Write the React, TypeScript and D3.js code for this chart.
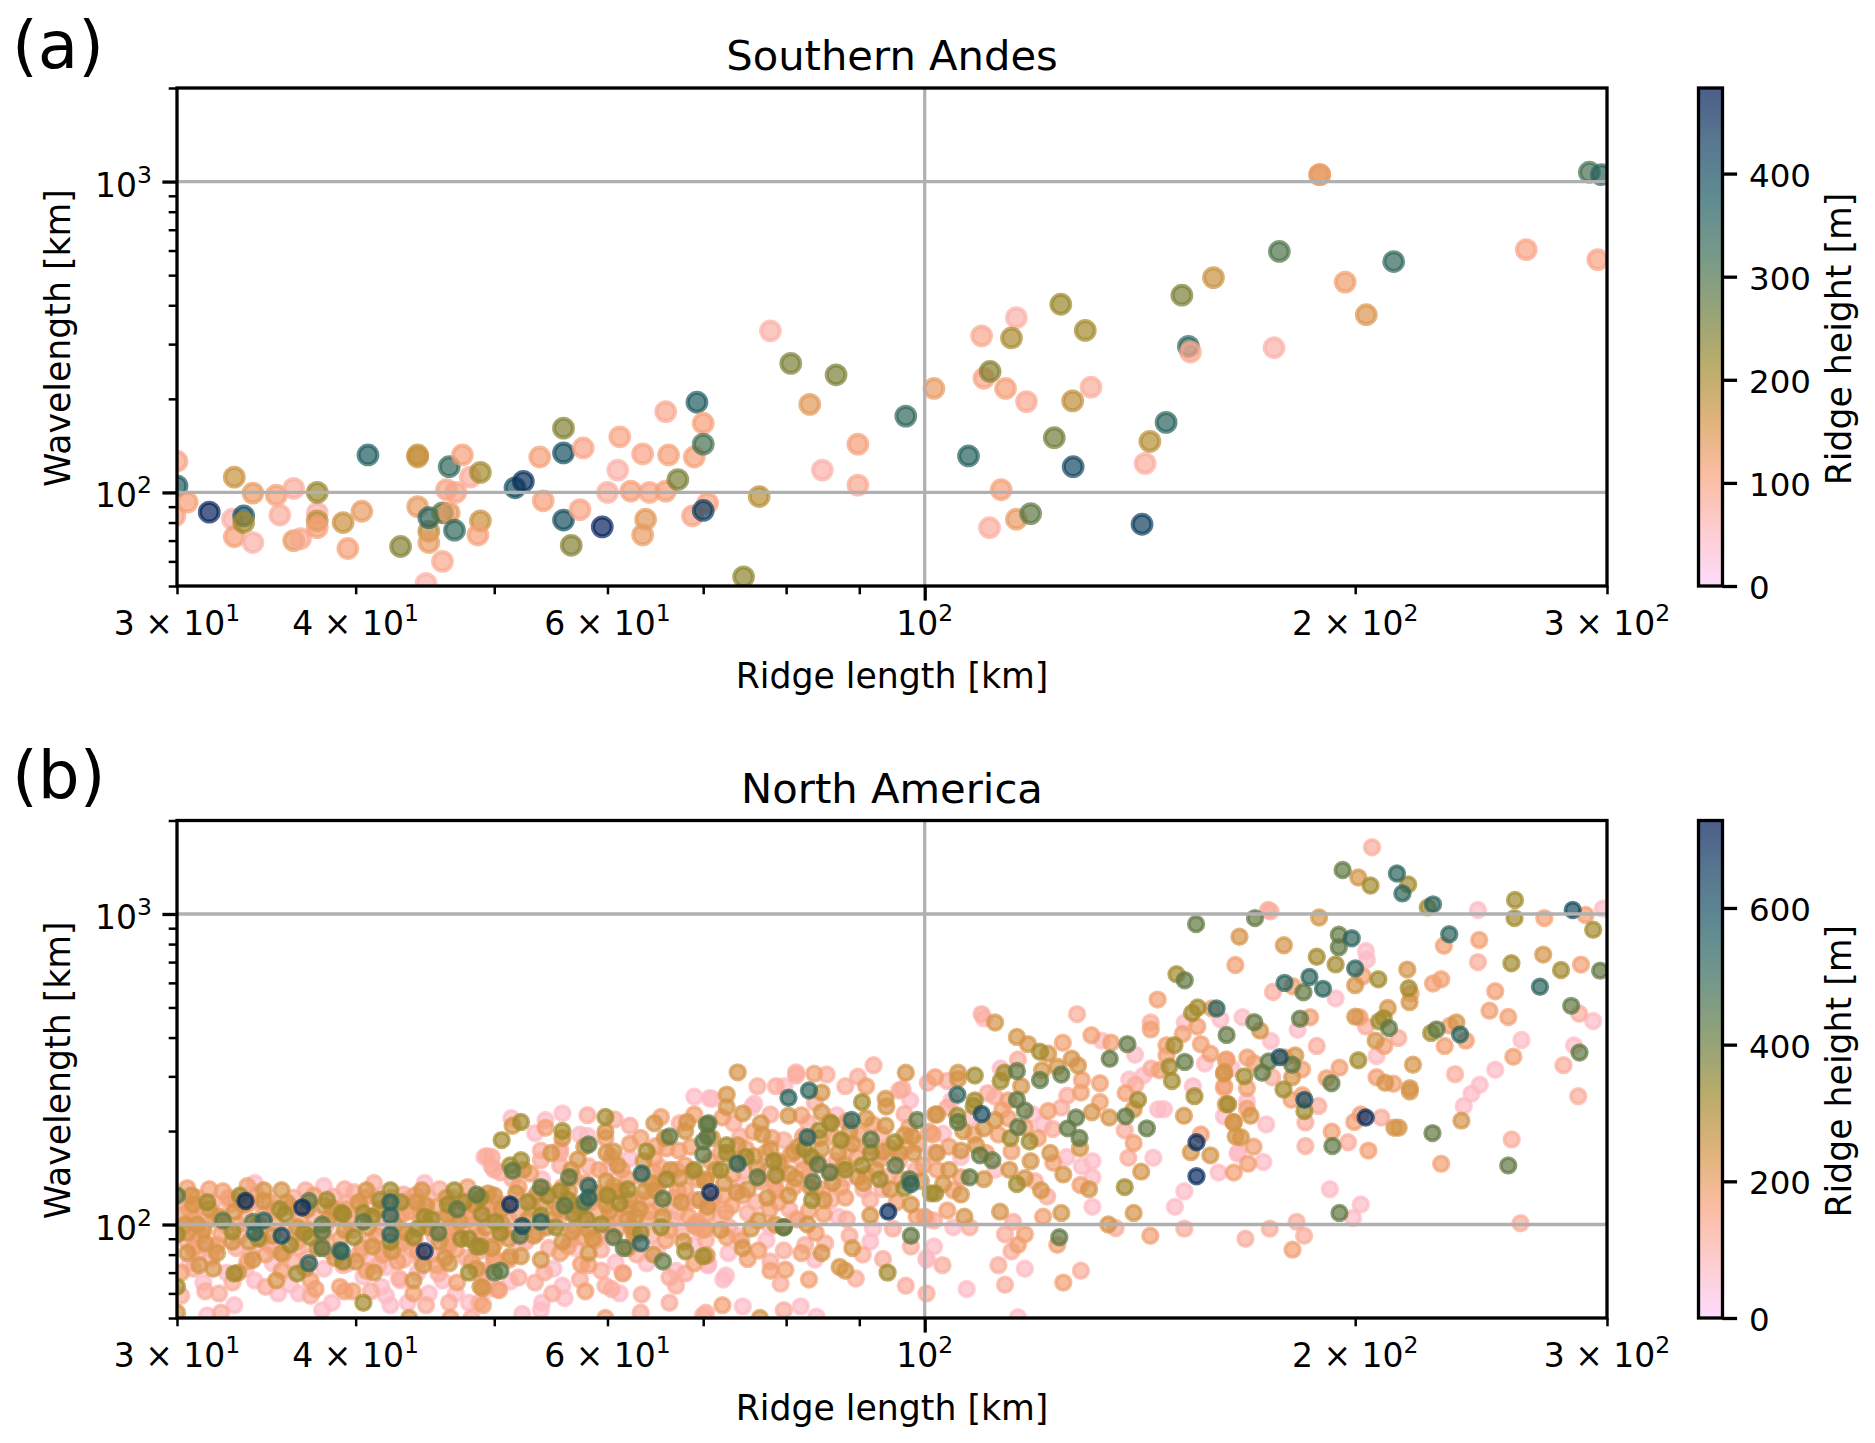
import * as d3 from "d3";
import { useEffect, useRef } from "react";

// Panel (a): Southern Andes, one entry per ridge
const andesLengths = [
  30, 30, 29.9, 30.5, 31.6, 32.8, 32.9, 32.9, 33.4, 33.4,
  33.9, 33.9, 35.2, 36.2, 35.4, 36.2, 36.6, 37.6, 37.6, 37.6,
  37.6, 39.2, 39.5, 40.4, 40.8, 43, 44.2, 44.2, 44.2, 44.8,
  45, 45, 45, 46, 46.5, 46, 46.9, 46.5, 47.5, 46.3,
  47, 48.1, 48.9, 48.9, 48.7, 51.7, 52.4, 53.8, 54.1, 55.9,
  55.9, 55.9, 56.6, 57.7, 57.4, 59.5, 60, 61, 61.2, 62.3,
  64.2, 63.5, 63.8, 63.5, 65.9, 66.2, 65.9, 67.2, 69, 69.3,
  70, 70, 68.8, 70.5, 70, 74.7, 76.6, 78, 80.6, 86.7,
  83.1, 89.8, 84.8, 89.8, 97, 101.5, 107.3, 109.6, 115.9, 115,
  110, 111.1, 113.9, 117.8, 113.1, 111, 115.9, 118.6, 123.2, 124.5,
  129.5, 126.9, 130.7, 127, 141.9, 142.6, 143.7, 147.5, 151.3, 152.9,
  153.4, 159.2, 177, 175.5, 188.9, 196.8, 203.6, 212.8, 263.4, 291.6,
  297.3, 295.6, 188.9,
];
const andesWavelengths = [
  126, 105, 84, 93, 86.4, 82, 112, 72, 84, 80,
  69, 99.5, 98, 103, 84.6, 70, 71, 86, 100, 81,
  77, 80, 66, 87, 132, 67, 132, 130, 90, 51,
  75, 69, 83, 86, 86, 60, 75.6, 121, 132, 102,
  100, 112, 116, 81, 73, 103.5, 108.5, 130, 94, 161,
  134, 81.5, 67.6, 139, 88, 77.5, 100, 118, 151, 101,
  100, 133, 82, 73, 101, 132, 182, 110, 130, 195,
  167, 143, 84, 92.5, 87.5, 53.5, 97, 331, 260, 239,
  192, 143, 118, 105.6, 176, 216, 131, 319, 365, 314,
  233, 245, 216, 196, 102, 77, 82, 85.5, 150, 403,
  332, 197, 218, 121, 79, 124, 146, 168, 431, 295,
  283, 491, 596, 292, 1053, 475, 373, 553, 604, 1072,
  1053, 561, 1053,
];
const andesHeights = [
  100, 370, 100, 110, 470, 70, 170, 110, 400, 210,
  70, 130, 110, 80, 80, 130, 90, 70, 220, 180,
  110, 170, 110, 130, 370, 240, 180, 170, 130, 70,
  180, 130, 350, 290, 130, 90, 340, 340, 110, 100,
  100, 80, 210, 170, 110, 400, 450, 110, 110, 240,
  400, 400, 240, 100, 100, 470, 80, 70, 100, 110,
  100, 100, 140, 130, 110, 110, 90, 250, 110, 370,
  110, 310, 100, 100, 430, 230, 190, 70, 250, 250,
  140, 110, 70, 90, 340, 130, 360, 90, 70, 200,
  100, 240, 110, 90, 110, 80, 130, 280, 260, 220,
  210, 180, 80, 410, 430, 80, 190, 350, 250, 340,
  90, 170, 300, 70, 130, 120, 150, 340, 100, 310,
  350, 100, 130,
];

// Panel (b): North America, ridges grouped by the height read from their colour
// every list is [length km, wavelength km]
const naBandHeights = [70, 120, 175, 235, 315, 420, 525, 610, 690];
const naPink = [
  [31.3, 65], [32.9, 55], [31.5, 51], [35.3, 60], [37.9, 53], [38, 133], [34, 136], [34.7, 87],
  [42, 59], [42.3, 55], [41.7, 63], [42, 73], [45, 60], [44.7, 136],
  [51.4, 220], [49.2, 165], [54.3, 217], [53.4, 197], [55.8, 228], [57.4, 195], [58.1, 193], [62.2, 163],
  [69, 258], [70.7, 255], [61.2, 60], [52.3, 51.5], [53.9, 53], [54, 56], [56, 58], [55.8, 63.5],
  [51.3, 65.5], [70.5, 74], [63.9, 75], [60.8, 75.5], [66.3, 141],
  [71, 254], [76, 245], [75.7, 239], [97.7, 251], [70.6, 74.5], [72.9, 81], [77.5, 89], [83.8, 77],
  [92, 97], [91.6, 88], [100.3, 78], [72.6, 68.5], [72.3, 66.5], [74.6, 54.5], [81.9, 54.5], [84, 50.5],
  [86.8, 225], [100.5, 104], [79.8, 279], [113, 318], [110, 461], [133, 391], [140.3, 352], [152, 447],
  [161, 457], [142.2, 302], [139, 293], [117.5, 72], [107, 62], [101.5, 85], [100.3, 77], [104.7, 98],
  [116.2, 50.3], [131, 114], [131, 142], [144.5, 164], [128.8, 154], [131, 160], [125.7, 165], [145.6, 235],
  [147, 235], [154, 279], [160.5, 147], [165.7, 171], [149.6, 114], [151.9, 128], [119, 226], [121, 210],
  [104.4, 251], [107.5, 220], [298, 1040], [243.7, 1030], [203.5, 760], [203.8, 712], [193.8, 535], [166.8, 465],
  [174.6, 390], [182.3, 424], [207, 349], [284.5, 377], [261.4, 393], [250.6, 315], [244.4, 282], [241.2, 264],
  [238.2, 241], [293.4, 452], [164, 318], [157, 330], [168, 250], [173.3, 210], [165.5, 169], [172.5, 159],
  [192, 130], [201.8, 116], [199.3, 105], [161.9, 223],
  [30.6, 75], [31, 85], [32.5, 70], [33.5, 72], [34, 66], [35, 75], [36, 64], [36.5, 60], [38, 72],
  [38.5, 56], [39.5, 75], [40.5, 68], [41, 76], [43, 66], [43.5, 56], [44.2, 70], [46, 66], [47, 60],
  [48, 56], [49, 68], [49.5, 62], [52, 88], [55, 72], [57, 84], [59, 92], [61.5, 70], [65, 82], [67, 71],
  [69, 86], [74, 92], [78, 98], [81, 104], [87, 106], [74, 132], [79, 143], [88, 141], [93, 168],
  [103, 196], [106, 165], [112, 150], [60, 150], [54, 140],
];
const naSalmon = [
  [34.6, 63], [31.4, 61], [32.1, 60], [32.2, 52], [37.2, 59], [36.9, 129], [31.3, 99], [31.8, 83], [31, 81],
  [30.8, 72], [32.8, 65], [30.2, 59], [50.2, 62], [48.8, 56], [46.5, 56], [44.8, 55], [42.9, 67], [41, 61],
  [43.2, 77], [41.7, 82], [44.4, 77], [45.7, 69.5], [48.2, 50], [39.3, 130], [39.9, 127], [41.2, 136], [43.2, 125],
  [45.8, 130], [49.2, 70], [49.8, 154], [49.4, 166],
  [49.8, 165], [51.5, 140], [50, 150], [50.5, 147], [55.6, 175], [55.6, 170], [55.6, 155], [53.9, 173], [53.9, 161],
  [58.2, 154], [58.1, 225], [60.7, 218], [62.2, 208], [65.4, 152], [67.4, 212], [69, 120], [59.4, 71], [59.8, 63.5],
  [60.4, 62], [63.4, 59.5], [66.3, 56], [63.3, 52], [54.9, 60], [57.4, 66.5], [54.2, 70], [53.4, 65], [52, 67.5],
  [49.1, 71], [66.3, 67.5], [67, 63.5], [68, 69.6], [62.9, 80], [59.4, 83], [67.6, 95], [67.2, 110], [70, 51],
  [78, 226], [96.8, 227], [96, 270], [83.8, 247], [75.2, 109], [72, 105], [88.2, 104], [93.4, 130], [91.6, 120],
  [70.3, 89], [79.7, 82.5], [82.5, 86], [85.2, 87], [88.6, 92], [90.5, 80], [95, 97], [93.5, 77.5], [97.8, 85],
  [89.5, 67], [78, 76], [79.3, 64.5], [97, 63.5], [100.3, 60], [79.7, 53], [70.3, 52],
  [74.3, 192], [73.5, 212], [79.7, 187], [82, 162], [77.5, 148], [87.6, 150], [85, 130], [86.7, 160], [82.9, 212],
  [93.2, 195], [101.5, 170], [76.4, 279], [78.7, 279], [88, 279], [81.3, 309], [81.3, 302], [85.4, 304], [89.8, 299],
  [92.1, 326], [96.5, 273], [100.5, 286], [109.6, 476], [127.8, 476], [116.2, 340], [143.9, 447], [144, 318],
  [125.8, 260], [113.8, 93], [115.3, 102], [112.6, 74], [115, 82], [113.8, 64], [128.6, 71], [102.9, 74],
  [107.5, 98], [101.5, 103], [119.4, 138], [121.8, 123], [136, 97.5], [151.9, 97], [138.8, 164], [138, 201],
  [140.4, 282], [103.7, 290], [112, 258], [110.7, 265], [103.7, 238], [124.6, 238], [122.9, 203],
  [173.8, 1030], [174.5, 1020], [205.5, 1640], [243.7, 700], [175.2, 561], [286.9, 477], [279.7, 326], [234.9, 305],
  [286.4, 259], [257.3, 188], [261, 101], [203.5, 434], [214.4, 399], [188, 376], [175, 298], [161.9, 275],
  [188.5, 241], [184.6, 213], [184.6, 179], [197.7, 184], [208.6, 221], [182, 102], [174.3, 97], [167.6, 90], [184.2, 92],
  [30.4, 118], [30.9, 96], [31.2, 108], [31.8, 118], [32.4, 100], [32.7, 116], [33.2, 92], [33.5, 106], [34.1, 124],
  [34.3, 96], [35.1, 113], [35.8, 96], [36.2, 122], [36.5, 84], [37.4, 106], [38.2, 100], [38.6, 123], [39.5, 118],
  [39.8, 96], [40.3, 115], [40.9, 88], [41.4, 122], [41.8, 97], [42.8, 104], [43.4, 120], [43.8, 84], [44.3, 112],
  [45, 122], [45.4, 92], [46, 105], [46.8, 122], [47.5, 97], [48.3, 110], [49, 90], [49.4, 104], [49.8, 120],
  [30.5, 88], [31.7, 78], [33, 84], [33.8, 80], [35, 84], [36.2, 76], [37, 78], [38.4, 82], [39.2, 74], [40.2, 80],
  [41.5, 74], [42.7, 86], [44, 90], [45.2, 80], [46.4, 84], [47.8, 78], [48.8, 82], [50.4, 92], [51.2, 104], [52.6, 88],
  [53.2, 112], [54.6, 84], [55.4, 102], [56.6, 90], [57.2, 116], [58.6, 100], [59.6, 124], [60.4, 92], [61.8, 104],
  [63, 120], [64.4, 92], [65.2, 136], [66.6, 104], [68.2, 118], [69.4, 102], [71.2, 122], [73, 98], [74.8, 148],
  [76.2, 118], [78.6, 134], [80.4, 112], [83, 145], [86, 120], [88.4, 176], [90.6, 130], [94, 142], [96, 160], [98.6, 150],
];
const naOrange = [
  [37.5, 62], [37.2, 66], [35.5, 71], [34.6, 80], [39, 63], [30.8, 105], [30.3, 107], [32.2, 93], [30.2, 70],
  [30.5, 131], [31.6, 130], [32.3, 128], [33.6, 133], [47.1, 65], [48.6, 118], [48.5, 100], [51.2, 77], [50, 77],
  [43.9, 60], [40.7, 71], [39.3, 61], [39.8, 61], [46.6, 50], [47.9, 132], [43.1, 108], [43.7, 110], [46.6, 98],
  [43.1, 87], [46.5, 87], [47, 83], [50, 109], [54.3, 205], [59.8, 190], [61.4, 150], [62.2, 182], [63.3, 190],
  [65.4, 222], [69, 226], [67.3, 173], [64.9, 179], [64.7, 163], [68, 155], [68, 130], [67.2, 128], [62.2, 113],
  [53.1, 120], [69.2, 98], [70, 96], [66.3, 96], [69, 75], [57.5, 74.5], [58.2, 74], [61.5, 69.6], [57.9, 61],
  [59.8, 50], [50.4, 61.5], [49.1, 55], [50, 78], [50, 86], [55.6, 81], [56.3, 85], [65.9, 89], [69, 100],
  [64, 120], [60.6, 108], [57.5, 104], [59, 110], [64.2, 110], [61, 97], [58.8, 89], [57.6, 91], [52, 108], [55, 104],
  [72.2, 221], [82, 225], [75.9, 199], [92, 210], [71, 117], [73.3, 115], [72.3, 124], [77.9, 112], [78.7, 129],
  [87.4, 132], [85, 108], [83, 111], [82.3, 150], [95.6, 118], [98.7, 106], [81.5, 104], [70.3, 97], [72.7, 91],
  [74.4, 89], [76.5, 82.5], [75.2, 77.5], [82, 81], [83.9, 94], [83, 66.5], [79.9, 71.5], [78, 71], [72.2, 55],
  [79.3, 155], [89.7, 165], [97.5, 205], [100.7, 199], [99.8, 155], [91, 279], [83.7, 306], [101.7, 298],
  [101.3, 195], [104.7, 129], [103.7, 111], [123.8, 86], [117.5, 93], [116.2, 86], [125, 65], [100, 106], [121, 106],
  [124.9, 385], [128.8, 292], [130.8, 407], [135, 385], [143.9, 425], [145.5, 530], [158.8, 496], [155.1, 434],
  [151.5, 411], [147.6, 378], [156, 381], [158.4, 355], [147.6, 350], [146, 314], [138.2, 265], [132.6, 285],
  [132.6, 248], [128.6, 266], [128.5, 134], [143.8, 92], [140, 183], [156, 195], [164.5, 147], [162, 279], [162.6, 340],
  [114.4, 251], [122, 232], [114.4, 220], [113.3, 234],
  [271.2, 970], [289.8, 993], [164.9, 685], [202.5, 630], [244.2, 825], [230.7, 790], [287.7, 687], [180.9, 585],
  [218.7, 555], [226.7, 597], [229.7, 616], [250.6, 564], [248.3, 488], [255.9, 466], [201.4, 465], [186, 465],
  [233, 437], [239, 391], [231, 376], [209.6, 376], [195, 320], [191, 296], [207, 298], [212.7, 284], [258, 347],
  [178.6, 345], [183.6, 316], [168.1, 345], [170, 331], [162.4, 338], [168, 275], [183.7, 261], [180.5, 252],
  [168, 236], [192.6, 199], [199.7, 214], [201.8, 226], [204.3, 173], [169.8, 178], [168.3, 157], [229.7, 157], [180.8, 83],
  [30.6, 112], [31, 122], [31.9, 104], [32.6, 122], [33.1, 100], [33.8, 118], [34.5, 108], [35.2, 100], [36, 114],
  [36.6, 104], [37.4, 124], [38, 92], [38.8, 108], [39.6, 102], [40.6, 122], [41.4, 92], [42, 112], [43, 96], [44, 124],
  [44.8, 100], [45.6, 114], [46.8, 108], [47.8, 118], [48.8, 92], [49.6, 112], [31.2, 92], [32, 86], [33.6, 76], [34.4, 90],
  [35.6, 80], [36.4, 88], [37.8, 86], [39, 90], [40.4, 84], [41.8, 80], [42.8, 76], [44.2, 82], [45.6, 74], [47.2, 92], [48.2, 76],
  [51, 116], [52.4, 98], [53.6, 94], [55.2, 118], [56.2, 110], [57, 98], [58.4, 118], [60, 100], [61.6, 114], [62.6, 92],
  [64, 104], [65.4, 114], [66.8, 122], [68.4, 106], [70.4, 108], [72.6, 110], [74.6, 124], [76.8, 138], [79, 118], [81, 132],
  [84, 128], [86, 148], [88, 122], [91, 145], [93, 162], [96.4, 140], [60.6, 128], [62, 140], [64.6, 148], [66, 176], [68.6, 178],
  [50.8, 96], [52, 132], [53, 146], [54.2, 130], [55.8, 132], [56.8, 142], [58, 136], [59.2, 150], [60.4, 165], [61.4, 128],
  [63.4, 142], [65, 130], [67, 150], [69.4, 140], [70.8, 160], [72, 170], [73.4, 145], [75, 175], [77.4, 170], [78.2, 190],
  [80.6, 168], [82.2, 192], [84.2, 160], [86.6, 190], [88.2, 215], [90, 196], [91.4, 178], [94.6, 176], [97, 178], [99, 182],
  [30.8, 84], [33, 120], [34.8, 118], [37, 96], [39.4, 112], [41, 106], [42.4, 122], [44.4, 106], [46.2, 94], [48, 104], [49.2, 122],
  [102, 150], [104, 178], [106, 142], [108.2, 195], [110.4, 170], [112.6, 195], [115, 172], [117.6, 205], [120, 190], [123, 158],
];
const naTan = [
  [35.5, 129], [34.5, 119], [34.5, 129], [30.7, 124], [31.6, 112], [31, 100], [30.5, 94], [31.4, 87], [30.5, 81],
  [32, 81], [31.8, 72], [33.9, 77], [35.5, 81], [32.9, 110], [38, 115], [38.5, 113], [33.7, 88], [30, 52],
  [44.8, 115], [44.5, 129], [40.7, 129], [41.1, 85], [43.9, 66], [46.4, 107], [49.5, 126], [46.5, 75], [48.9, 63], [51.2, 90], [43.6, 50],
  [51.5, 208], [55.8, 190], [59.8, 199], [57.2, 162], [59.9, 170], [60.6, 172], [59.9, 138], [60.6, 133], [64.7, 212],
  [68, 200], [67.4, 141], [70.2, 138], [70.5, 114], [64.7, 129], [63.7, 128], [62.2, 120], [59.9, 116], [62.8, 106],
  [53.9, 115], [50, 124], [50.6, 101], [56.7, 95], [62.7, 94], [58.2, 81], [49.1, 62.5], [53.9, 77], [52.2, 79], [51.3, 79],
  [53.3, 92], [62, 104],
  [72.7, 262], [72.7, 239], [84.7, 266], [74.6, 228], [80.3, 224], [84.7, 230], [93.9, 254], [94, 240], [93.9, 208],
  [96.8, 194], [102, 226], [77, 195], [78, 175], [76, 166], [81, 171], [84.7, 175], [87, 170], [70.3, 140], [73.9, 127],
  [81.2, 141], [80.3, 124], [85, 120], [89.8, 142], [93.5, 172], [97.8, 116], [91.6, 107], [76.5, 103], [75.6, 97],
  [70.4, 79.5], [84.7, 81], [89, 84], [87.2, 73], [88, 71], [76.7, 50], [98, 192], [74, 309], [97, 308],
  [105.5, 308], [105.5, 294], [112, 447], [116, 402], [118.1, 381], [122, 355], [120.8, 314], [123.8, 322], [126.7, 342],
  [128, 325], [116.8, 279], [101.7, 226], [110, 204], [112, 217], [106, 173], [106.6, 106], [112.9, 110], [117.5, 141],
  [120.6, 129], [124.6, 109], [134.4, 100], [140, 109], [130.3, 130], [141.7, 148], [128.4, 176], [130.9, 230], [134.6, 221],
  [140, 235], [151.8, 224], [153.5, 171], [158.4, 167], [165, 192], [164.5, 214], [162, 310],
  [201, 1310], [188.7, 974], [166, 845], [178.3, 793], [270.7, 740], [217.5, 662], [200, 590], [210.8, 498], [200, 467],
  [218.3, 520], [235.4, 447], [171.6, 421], [206.7, 391], [219.5, 327], [209.9, 286], [218.4, 275], [218.4, 268],
  [181.6, 350], [161.9, 306], [180.7, 298], [169, 224], [162.4, 244], [164.4, 213], [237.3, 216], [213, 205], [214.5, 205], [166.4, 191],
  [30.8, 116], [31.3, 96], [32.1, 106], [32.8, 88], [33.4, 116], [34.2, 100], [35, 92], [35.8, 118], [36.4, 98], [37, 112],
  [37.6, 84], [38.3, 104], [39.3, 96], [40.2, 118], [40.8, 98], [41.6, 112], [42.6, 100], [43.4, 94], [44.1, 118], [45, 98],
  [45.8, 88], [46.3, 122], [47.3, 102], [48.4, 116], [49.3, 98], [30.4, 100], [31.1, 74], [33.1, 70], [35.2, 66], [36.9, 72],
  [38.7, 78], [40, 76], [41.2, 70], [42.4, 82], [44.6, 74], [46.2, 78], [48.6, 72], [49.8, 84],
  [50.6, 112], [51.8, 126], [52.8, 104], [53.6, 126], [54.4, 98], [55.4, 112], [56.4, 128], [57.4, 112], [58.2, 96], [59, 126],
  [60.2, 110], [61.2, 128], [62.4, 98], [63.2, 112], [64.4, 136], [65.6, 106], [66.4, 150], [67.6, 118], [68.8, 148], [69.6, 120],
  [71.4, 150], [72.4, 136], [73.8, 160], [75.2, 130], [76.4, 152], [77.6, 122], [79, 160], [80.4, 146], [81.6, 178], [83.2, 132],
  [84.4, 190], [86.2, 136], [87.8, 156], [89, 182], [90.6, 136], [92.4, 150], [94.6, 130], [96, 170], [98.2, 170], [99.4, 138],
  [52.4, 150], [54.8, 170], [56.6, 150], [57.8, 178], [61, 155], [63.6, 160], [65.8, 190], [68.2, 214], [71, 190], [74, 180],
  [76.8, 212], [85.8, 214], [88.6, 200], [91, 220], [58.6, 90], [55.8, 88], [62, 84], [64.6, 80], [67.8, 88], [72, 96],
  [74.6, 84], [78.6, 100], [82.8, 100], [102, 170], [104, 150], [106.4, 200], [108.6, 180], [103, 135], [106, 125], [110, 140],
  [114.6, 150], [118.6, 160], [122.4, 170], [125, 145],
];
const naOlive = [
  [30, 93], [30, 63], [32.8, 95], [32.9, 69.5], [36.4, 69.5], [35.7, 108], [36.8, 94], [37.2, 91], [39.1, 109],
  [39.9, 91], [39.2, 108], [41.1, 106], [40.5, 109], [42.3, 129], [42.3, 88], [43.9, 91], [44.7, 106], [39.2, 76],
  [40.5, 56], [46.4, 116], [46.9, 129], [50.1, 102], [47.4, 90], [48, 90], [48.6, 85], [48, 70], [51.3, 155],
  [52.2, 214], [50.6, 187], [52.2, 161], [59.8, 222], [55.8, 200], [63.9, 172], [61.2, 117], [55.6, 128], [56.3, 120],
  [53.9, 107], [48.9, 122], [48.9, 85], [55.2, 98], [58, 104], [59.4, 100], [63.3, 94], [65.4, 98], [68, 82], [70, 79],
  [90.4, 248], [72.7, 180], [72.7, 170], [84.4, 201], [86, 212], [87.4, 187], [95.3, 184], [83.3, 165], [78.7, 144],
  [83.4, 120], [90.4, 155], [91.7, 170], [96.8, 131], [101, 126], [79.7, 98], [94.2, 70],
  [108.4, 302], [120.4, 360], [113.7, 308], [113, 290], [114.8, 190], [118.4, 185], [108.4, 251], [108.2, 241], [105.4, 224],
  [101.7, 126], [116, 135], [138, 132], [141, 252], [149.5, 378], [148.3, 322], [148.9, 290], [150, 640], [155.2, 500],
  [153.8, 480], [154.4, 259], [163, 244],
  [205, 1235], [217.8, 1245], [224.8, 1050], [258.7, 1110], [258.5, 970], [293.4, 890], [188, 728], [193.8, 688], [257.2, 694],
  [278.6, 660], [207.6, 616], [218, 577], [207.9, 451], [209.4, 462], [226, 414], [201, 338], [167.3, 300], [178.2, 272], [184.3, 232],
  [31.5, 118], [33.2, 124], [34.2, 90], [35.4, 112], [36, 86], [38.2, 120], [41.6, 120], [43, 118], [44.2, 97], [45.2, 104],
  [47.6, 118], [49, 108], [50.5, 94], [52.8, 118], [54.5, 124], [56.8, 108], [60, 124], [62, 130], [66, 140], [69, 150],
  [72, 150], [75, 165], [78.4, 160], [82.4, 175], [88, 150], [93, 140],
];
const naGreen = [
  [37.1, 119], [33.9, 102], [32.3, 103], [30, 124], [37.9, 100], [37.9, 95], [37.9, 84], [39, 82.6],
  [40.5, 102], [47.1, 112], [48.6, 125], [45.7, 94], [50, 70],
  [51.5, 149], [58.2, 181], [56.4, 142], [57.8, 118], [66.3, 192], [70.4, 210], [70.5, 192], [70, 185], [70, 168],
  [65.6, 121], [53.9, 132], [56, 115], [52.1, 92], [60.6, 91], [61.6, 84], [65.6, 76], [50.5, 71],
  [98.8, 217], [70.6, 212], [91.7, 188], [84.2, 156], [85.8, 147], [76.4, 142], [83.5, 137], [95.4, 155], [97.6, 140], [79.7, 98], [97.8, 92],
  [116, 312], [120.4, 292], [124.6, 304], [116, 252], [117.5, 233], [116.2, 206], [109.3, 167], [111.5, 161], [105.5, 214],
  [107.5, 142], [124.2, 91], [138.6, 381], [134.7, 342], [152, 612], [154.8, 928], [162.6, 408], [152, 334], [128.3, 190],
  [125.9, 204], [127.6, 221], [138.2, 223], [143, 204],
  [196, 1385], [170.2, 970], [194.8, 857], [194.8, 782], [296.7, 657], [184, 560], [283.2, 506], [287, 358], [226.5, 197],
  [255.9, 155], [183, 460], [170, 448], [211.2, 429], [228, 425], [174, 335], [172.2, 308], [180.7, 327], [192.5, 285], [192.8, 179], [195, 109],
];
const naTeal = [
  [37.1, 75], [34.5, 103], [34, 94], [42.3, 118], [42.3, 107], [42.3, 93], [39.1, 82],
  [58.2, 133], [58.2, 122], [53.9, 102], [63.4, 146], [63.3, 87], [80.3, 256], [83, 270],
  [74, 157], [82.8, 191], [88.9, 217], [97.8, 135], [105.4, 262], [160, 496],
  [213.9, 1350], [215.8, 1165], [226.7, 1074], [198.9, 835], [232.7, 860], [200, 668], [178.5, 600], [185.8, 627], [189.9, 574],
  [269.3, 583], [236.8, 409],
];
const naBlue = [
  [35.5, 92], [52.3, 99], [109.6, 227], [283.9, 1030], [177.1, 346], [184.3, 252],
];
const naNavy = [
  [33.5, 119], [36.7, 113.5], [51.3, 116], [44.7, 82], [70.8, 127], [94.3, 110],
  [154.9, 184], [154.9, 143], [203.4, 221],
];
const naBands = [naPink, naSalmon, naOrange, naTan, naOlive, naGreen, naTeal, naBlue, naNavy];

// Axis limits and ticks, the same for both panels
const lengthDomain = [30, 300];
const wavelengthDomain = [50, 2000];
const lengthMajor = [100];
const lengthMinor = [30, 40, 50, 60, 70, 80, 90, 200, 300];
const lengthLabels = [30, 40, 60, 100, 200, 300];
const wavelengthMajor = [100, 1000];
const wavelengthMinor = [50, 60, 70, 80, 90, 200, 300, 400, 500, 600, 700, 800, 900, 2000];

// batlow, reversed: light pink at zero height to navy at the top
const batlowStops = [
  "#FACCFA", "#FDB7BC", "#F8A17B", "#D29343", "#9D892B",
  "#687B3E", "#3C6D56", "#1C5A62", "#103F60", "#011959",
];

const andesMaxHeight = 483;
const naMaxHeight = 728;
const andesHeightTicks = [0, 100, 200, 300, 400];
const naHeightTicks = [0, 200, 400, 600];

const FONT = "'DejaVu Sans'";
const batlow = d3
  .scaleLinear<string>()
  .domain(batlowStops.map((_, i) => i / (batlowStops.length - 1)))
  .range(batlowStops)
  .interpolate(d3.interpolateRgb);

type Point = { x: number; y: number; h: number };

function drawPanel(
  svg: d3.Selection<SVGSVGElement, unknown, null, undefined>,
  opts: {
    id: string;
    top: number;
    bottom: number;
    title: string;
    tag: string;
    tagY: number;
    points: Point[];
    radius: number;
    strokeWidth: number;
    maxHeight: number;
    heightTicks: number[];
  }
) {
  const { id, top, bottom, title, tag, tagY, points, radius, strokeWidth, maxHeight, heightTicks } = opts;
  const left = 177;
  const right = 1607;
  const barLeft = 1698.5;
  const barRight = 1722.5;
  const dark = "#000";

  const x = d3.scaleLog().domain(lengthDomain).range([left, right]);
  const y = d3.scaleLog().domain(wavelengthDomain).range([bottom, top]);
  const g = svg.append("g");

  g.append("clipPath")
    .attr("id", id)
    .append("rect")
    .attr("x", left)
    .attr("y", top)
    .attr("width", right - left)
    .attr("height", bottom - top);

  // Fill and edge both carry the alpha, which gives the darker ring
  g.append("g")
    .attr("clip-path", `url(#${id})`)
    .selectAll("circle")
    .data(points)
    .join("circle")
    .attr("cx", (d) => x(d.x))
    .attr("cy", (d) => y(d.y))
    .attr("r", radius)
    .attr("fill", (d) => batlow(d.h / maxHeight))
    .attr("stroke", (d) => batlow(d.h / maxHeight))
    .attr("fill-opacity", 0.7)
    .attr("stroke-opacity", 0.7)
    .attr("stroke-width", strokeWidth);

  // Grid only at the decades, drawn over the points
  g.append("g")
    .selectAll("line")
    .data(lengthMajor)
    .join("line")
    .attr("x1", (d) => x(d))
    .attr("x2", (d) => x(d))
    .attr("y1", top)
    .attr("y2", bottom)
    .attr("stroke", "#b0b0b0")
    .attr("stroke-width", 3.3);
  g.append("g")
    .selectAll("line")
    .data(wavelengthMajor)
    .join("line")
    .attr("x1", left)
    .attr("x2", right)
    .attr("y1", (d) => y(d))
    .attr("y2", (d) => y(d))
    .attr("stroke", "#b0b0b0")
    .attr("stroke-width", 3.3);

  // Axes
  const tickStyle = (sel: d3.Selection<SVGGElement, unknown, null, undefined>, w: number) => {
    sel.select(".domain").remove();
    sel.selectAll("line").attr("stroke", dark).attr("stroke-width", w);
  };
  const noLabel = () => "";
  g.append("g")
    .attr("transform", `translate(0,${bottom})`)
    .call(d3.axisBottom(x).tickValues(lengthMinor).tickSize(8.3).tickFormat(noLabel))
    .call(tickStyle, 2.5);
  g.append("g")
    .attr("transform", `translate(0,${bottom})`)
    .call(d3.axisBottom(x).tickValues(lengthMajor).tickSize(14.6).tickFormat(noLabel))
    .call(tickStyle, 3.3);
  g.append("g")
    .attr("transform", `translate(${left},0)`)
    .call(d3.axisLeft(y).tickValues(wavelengthMinor).tickSize(8.3).tickFormat(noLabel))
    .call(tickStyle, 2.5);
  g.append("g")
    .attr("transform", `translate(${left},0)`)
    .call(d3.axisLeft(y).tickValues(wavelengthMajor).tickSize(14.6).tickFormat(noLabel))
    .call(tickStyle, 3.3);

  g.append("rect")
    .attr("x", left)
    .attr("y", top)
    .attr("width", right - left)
    .attr("height", bottom - top)
    .attr("fill", "none")
    .attr("stroke", dark)
    .attr("stroke-width", 3.3);

  const text = (tx: number, ty: number, size: number, anchor: string) =>
    g
      .append("text")
      .attr("x", tx)
      .attr("y", ty)
      .attr("font-family", FONT)
      .attr("font-size", size)
      .attr("text-anchor", anchor)
      .attr("fill", dark);

  // 3 x 10^1 style labels
  const power = (sel: d3.Selection<SVGTextElement, unknown, null, undefined>, v: number) => {
    const exp = Math.floor(Math.log10(v) + 1e-9);
    const mant = Math.round(v / 10 ** exp);
    sel.text(mant === 1 ? "10" : `${mant} \u00d7 10`);
    sel.append("tspan").attr("dy", -14).attr("font-size", 23.5).text(exp);
  };
  lengthLabels.forEach((v) => {
    text(x(v), bottom + 49, 33, "middle").call(power, v);
  });
  wavelengthMajor.forEach((v) => {
    text(152, y(v) + 15, 33, "end").call(power, v);
  });

  text((left + right) / 2, top - 18, 41.7, "middle").text(title);
  text((left + right) / 2, bottom + 102, 34.7, "middle").text("Ridge length [km]");
  text(12, tagY, 66, "start").text(tag);
  g.append("text")
    .attr("transform", `translate(70,${(top + bottom) / 2 + 1}) rotate(-90)`)
    .attr("font-family", FONT)
    .attr("font-size", 34.7)
    .attr("text-anchor", "middle")
    .text("Wavelength [km]");

  // Colour bar, gradient so that the alpha is laid down only once
  const barY = d3.scaleLinear().domain([0, maxHeight]).range([bottom, top]);
  const gradient = g
    .append("linearGradient")
    .attr("id", `${id}-bar`)
    .attr("x1", 0)
    .attr("x2", 0)
    .attr("y1", 1)
    .attr("y2", 0);
  gradient
    .selectAll("stop")
    .data(batlowStops)
    .join("stop")
    .attr("offset", (_, i) => i / (batlowStops.length - 1))
    .attr("stop-color", (d) => d)
    .attr("stop-opacity", 0.7);
  g.append("rect")
    .attr("x", barLeft)
    .attr("y", top)
    .attr("width", barRight - barLeft)
    .attr("height", bottom - top)
    .attr("fill", `url(#${id}-bar)`);
  g.append("g")
    .attr("transform", `translate(${barRight},0)`)
    .call(d3.axisRight(barY).tickValues(heightTicks).tickSize(14.6).tickFormat(noLabel))
    .call(tickStyle, 3.3);
  g.append("rect")
    .attr("x", barLeft)
    .attr("y", top)
    .attr("width", barRight - barLeft)
    .attr("height", bottom - top)
    .attr("fill", "none")
    .attr("stroke", dark)
    .attr("stroke-width", 3.3);
  heightTicks.forEach((v) => {
    text(1749, barY(v) + 13, 32.5, "start").text(v);
  });
  g.append("text")
    .attr("transform", `translate(1851,${(top + bottom) / 2 + 2}) rotate(-90)`)
    .attr("font-family", FONT)
    .attr("font-size", 34.7)
    .attr("text-anchor", "middle")
    .text("Ridge height [m]");
}

export default function App() {
  const ref = useRef<SVGSVGElement | null>(null);

  useEffect(() => {
    const svg = d3.select(ref.current as SVGSVGElement);
    svg.selectAll("*").remove();

    const andesPoints: Point[] = andesLengths.map((len, i) => ({
      x: len,
      y: andesWavelengths[i],
      h: andesHeights[i],
    }));
    const naPoints: Point[] = naBands.flatMap((band, i) =>
      band.map(([len, wave]) => ({ x: len, y: wave, h: naBandHeights[i] }))
    );

    drawPanel(svg, {
      id: "clip-a",
      top: 88,
      bottom: 586,
      title: "Southern Andes",
      tag: "(a)",
      tagY: 68,
      points: andesPoints,
      radius: 9.4,
      strokeWidth: 4,
      maxHeight: andesMaxHeight,
      heightTicks: andesHeightTicks,
    });
    drawPanel(svg, {
      id: "clip-b",
      top: 820.5,
      bottom: 1318,
      title: "North America",
      tag: "(b)",
      tagY: 798,
      points: naPoints,
      radius: 7.4,
      strokeWidth: 3.6,
      maxHeight: naMaxHeight,
      heightTicks: naHeightTicks,
    });
  }, []);

  return (
    <svg
      ref={ref}
      width={1875}
      height={1443}
      style={{ position: "absolute", left: 0, top: 0, background: "#fff" }}
    />
  );
}
